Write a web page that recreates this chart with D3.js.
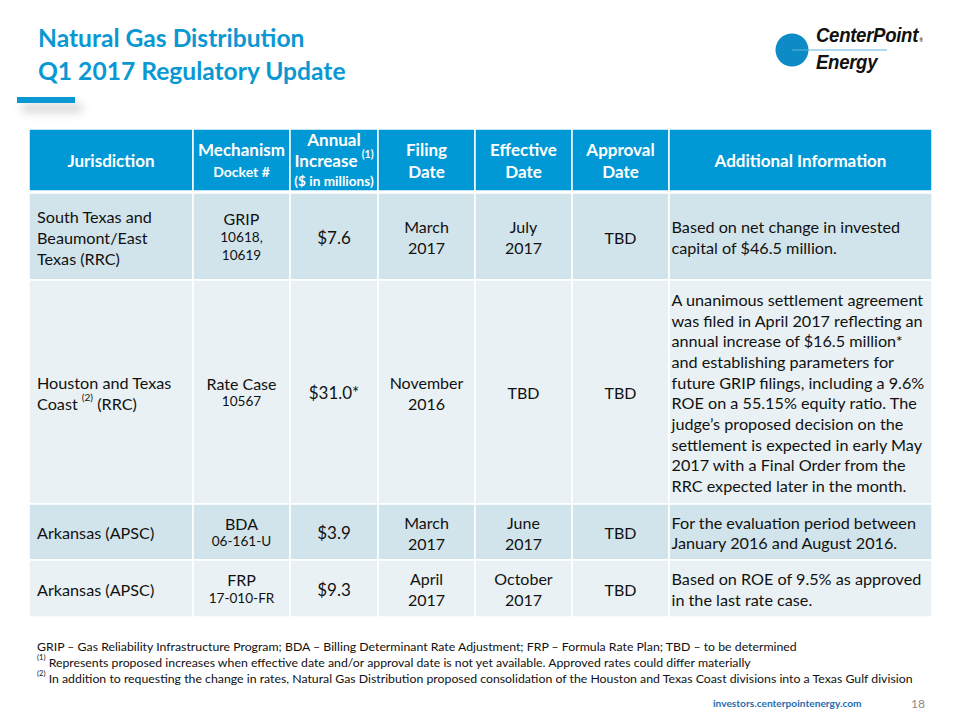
<!DOCTYPE html>
<html><head><meta charset="utf-8">
<script src="https://cdn.jsdelivr.net/npm/d3@7"></script>
<style>
html,body{margin:0;padding:0;background:#fff;}
svg{display:block;font-family:Lato,"Open Sans",sans-serif;}
</style></head>
<body>
<svg id="chart" width="960" height="720"></svg>
<script>
// ---------- DATA ----------
const titleLines = ["Natural Gas Distribution", "Q1 2017 Regulatory Update"];
const headers = [
  [["Jurisdiction", "h"]],
  [["Mechanism", "h"], ["Docket #", "hs"]],
  [["Annual", "h"], ["Increase ^(1)", "h"], ["($ in millions)", "hs"]],
  [["Filing", "h"], ["Date", "h"]],
  [["Effective", "h"], ["Date", "h"]],
  [["Approval", "h"], ["Date", "h"]],
  [["Additional Information", "h"]]
];
const jurisdictions = [
  ["South Texas and", "Beaumont/East", "Texas (RRC)"],
  ["Houston and Texas", "Coast ^(2) (RRC)"],
  ["Arkansas (APSC)"],
  ["Arkansas (APSC)"]
];
const mechanisms = ["GRIP", "Rate Case", "BDA", "FRP"];
const dockets = [["10618,", "10619"], ["10567"], ["06-161-U"], ["17-010-FR"]];
const increases = ["$7.6", "$31.0*", "$3.9", "$9.3"];
const filingDates = [["March", "2017"], ["November", "2016"], ["March", "2017"], ["April", "2017"]];
const effectiveDates = [["July", "2017"], ["TBD"], ["June", "2017"], ["October", "2017"]];
const approvalDates = [["TBD"], ["TBD"], ["TBD"], ["TBD"]];
const additionalInfo = [
  ["Based on net change in invested", "capital of $46.5 million."],
  ["A unanimous settlement agreement", "was filed in April 2017 reflecting an",
   "annual increase of $16.5 million*", "and establishing parameters for",
   "future GRIP filings, including a 9.6%", "ROE on a 55.15% equity ratio. The",
   "judge’s proposed decision on the", "settlement is expected in early May",
   "2017 with a Final Order from the", "RRC expected later in the month."],
  ["For the evaluation period between", "January 2016 and August 2016."],
  ["Based on ROE of 9.5% as approved", "in the last rate case."]
];
const footnotes = [
  "GRIP – Gas Reliability Infrastructure Program; BDA – Billing Determinant Rate Adjustment; FRP – Formula Rate Plan; TBD – to be determined",
  "^(1) Represents proposed increases when effective date and/or approval date is not yet available. Approved rates could differ materially",
  "^(2) In addition to requesting the change in rates, Natural Gas Distribution proposed consolidation of the Houston and Texas Coast divisions into a Texas Gulf division"
];
const website = "investors.centerpointenergy.com";
const pageNumber = "18";
const logoLines = ["CenterPoint", "Energy"];

// ---------- LAYOUT ----------
const svg = d3.select("#chart");
const BLUE = "#0a98d3", HEAD = "#0199d5", DARK = "#d2e4eb", LIGHT = "#e9f1f4";
const colEdges = [29, 193, 290, 378, 475, 572, 669, 932];
const headerTop = 129, headerH = 62;
const rowHeights = [87, 224, 56, 57];
const tableTop = headerTop + headerH + 2;

const x = d3.scaleOrdinal().domain(d3.range(7)).range(colEdges.slice(0, 7));
const w = i => colEdges[i + 1] - colEdges[i];
const rowTops = rowHeights.reduce((a, h, i) => { a.push(i === 0 ? tableTop : a[i - 1] + rowHeights[i - 1]); return a; }, []);
const y = d3.scaleOrdinal().domain(d3.range(4)).range(rowTops);

// defs
const defs = svg.append("defs");
const f = defs.append("filter").attr("id", "sh").attr("x", "-50%").attr("y", "-100%").attr("width", "200%").attr("height", "500%");
f.append("feGaussianBlur").attr("stdDeviation", 5);

// write text with superscript markers ^(n)
function richText(sel, str, size) {
  const parts = str.split(/(\^\(\d\))/);
  parts.forEach(p => {
    if (!p) return;
    const m = p.match(/^\^\((\d)\)$/);
    if (m) {
      sel.append("tspan").attr("font-size", size * 0.62).attr("baseline-shift", "super").text("(" + m[1] + ")");
    } else {
      sel.append("tspan").text(p);
    }
  });
}

// Title
svg.selectAll("text.title").data(titleLines).join("text")
  .attr("class", "title")
  .attr("x", 38).attr("y", (d, i) => 47 + i * 33)
  .attr("font-size", 24.6).attr("font-weight", 700).attr("fill", BLUE)
  .text(d => d);

// accent bar + shadow
svg.append("rect").attr("x", 22).attr("y", 104).attr("width", 60).attr("height", 8)
  .attr("fill", "#9a9a9a").attr("opacity", 0.45).attr("filter", "url(#sh)");
svg.append("rect").attr("x", 17).attr("y", 97).attr("width", 58).attr("height", 6).attr("fill", BLUE);

// Logo
svg.append("circle").attr("cx", 792).attr("cy", 50).attr("r", 16.5).attr("fill", "#0d8bc7");
svg.append("line").attr("x1", 792).attr("x2", 887).attr("y1", 50).attr("y2", 50)
  .attr("stroke", "#5ab4df").attr("stroke-width", 1);
const logo = svg.selectAll("text.logo").data(logoLines).join("text")
  .attr("class", "logo")
  .attr("transform", (d, i) => `translate(816,${i ? 69 : 42}) scale(1,1.12)`)
  .attr("font-family", "'Liberation Sans','Arial',sans-serif")
  .attr("font-size", 18.6).attr("font-weight", 700).attr("font-style", "italic")
  .attr("letter-spacing", -0.3)
  .attr("fill", "#111");
logo.append("tspan").text(d => d);
logo.filter((d, i) => i === 0).append("tspan")
  .attr("dx", 1.5).attr("font-size", 4.5).attr("font-style", "normal").text("®");

// Header row
const hdr = svg.append("g");
hdr.selectAll("rect").data(headers).join("rect")
  .attr("x", (d, i) => x(i)).attr("y", headerTop)
  .attr("width", (d, i) => w(i)).attr("height", headerH)
  .attr("fill", HEAD).attr("stroke", "#fff").attr("stroke-width", 1.5);
headers.forEach((lines, i) => {
  const cx = x(i) + w(i) / 2;
  const cy = headerTop + headerH / 2;
  const lh = lines.length === 3 ? 21 : 22;
  lines.forEach((ln, k) => {
    const size = ln[1] === "hs" ? (lines.length === 3 ? 13.6 : 14) : 17;
    const t = hdr.append("text")
      .attr("x", cx).attr("y", cy + (k - (lines.length - 1) / 2) * lh)
      .attr("dominant-baseline", "central").attr("text-anchor", "middle")
      .attr("font-size", size).attr("font-weight", 700).attr("fill", "#fff");
    richText(t, ln[0], size);
  });
});

// Body rows
const body = svg.append("g");
const rows = d3.range(4);
rows.forEach(r => {
  const cells = [
    { lines: jurisdictions[r].map(s => [s, 16.2]), align: "left" },
    { lines: [[mechanisms[r], 16]].concat(dockets[r].map(s => [s, 13.6])), align: "middle", lh: 18.5 },
    { lines: [[increases[r], 17]], align: "middle" },
    { lines: filingDates[r].map(s => [s, 16]), align: "middle" },
    { lines: effectiveDates[r].map(s => [s, 16]), align: "middle" },
    { lines: approvalDates[r].map(s => [s, 16]), align: "middle" },
    { lines: additionalInfo[r].map(s => [s, 16.2]), align: "left", lh: 20.7 }
  ];
  cells.forEach((c, i) => {
    body.append("rect")
      .attr("x", x(i)).attr("y", y(r))
      .attr("width", w(i)).attr("height", rowHeights[r])
      .attr("fill", r % 2 === 0 ? DARK : LIGHT)
      .attr("stroke", "#fff").attr("stroke-width", 1.5);
    const cy = y(r) + rowHeights[r] / 2;
    const lh = c.lh || 21;
    const tx = c.align === "left" ? x(i) + (i === 6 ? 2.5 : 8) : x(i) + w(i) / 2;
    c.lines.forEach((ln, k) => {
      const t = body.append("text")
        .attr("x", tx).attr("y", cy + (k - (c.lines.length - 1) / 2) * lh)
        .attr("dominant-baseline", "central")
        .attr("text-anchor", c.align === "left" ? "start" : "middle")
        .attr("font-size", ln[1]).attr("fill", "#111");
      richText(t, ln[0], ln[1]);
    });
  });
});

// Footnotes
footnotes.forEach((s, i) => {
  const t = svg.append("text").attr("x", 37).attr("y", 646 + i * 16)
    .attr("dominant-baseline", "central").attr("font-size", 12.3).attr("fill", "#111");
  richText(t, s, 12.3);
});

svg.append("text").attr("x", 713).attr("y", 703).attr("dominant-baseline", "central")
  .attr("font-size", 10.2).attr("font-weight", 700).attr("fill", "#1f6db0").text(website);
svg.append("text").attr("x", 925).attr("y", 703).attr("dominant-baseline", "central")
  .attr("text-anchor", "end").attr("font-size", 12).attr("fill", "#8a8a8a").text(pageNumber);
</script>
</body></html>
